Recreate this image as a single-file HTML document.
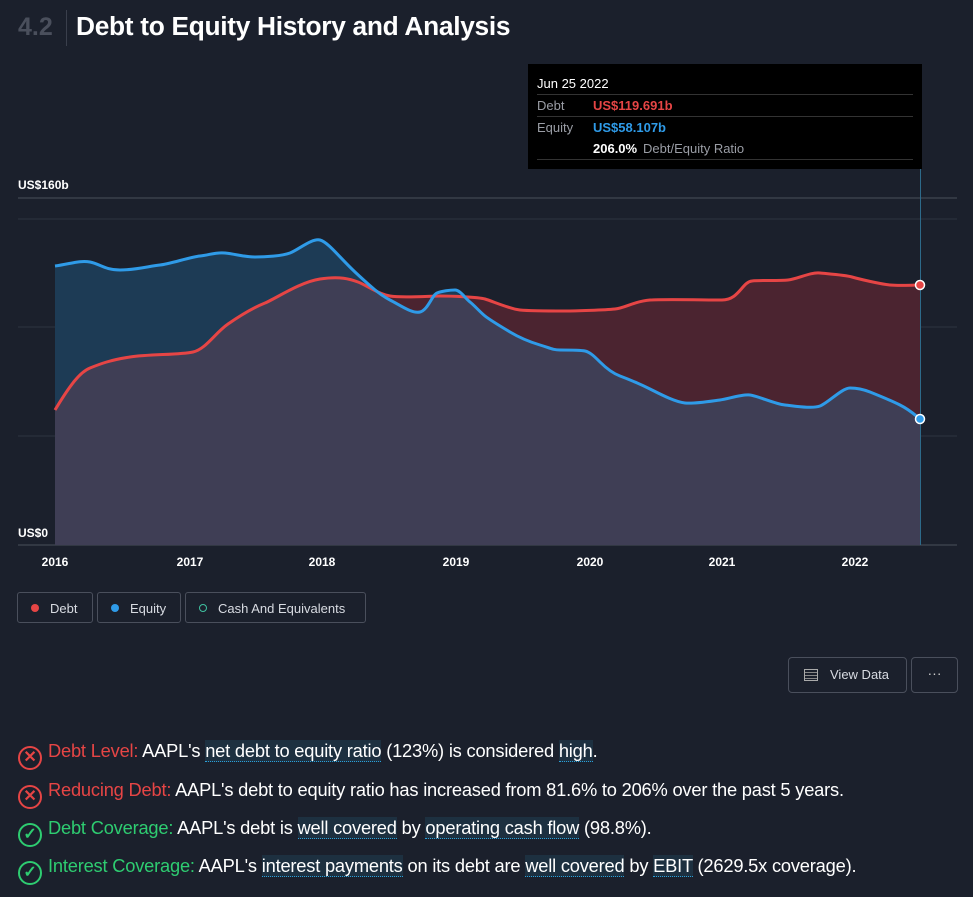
<!DOCTYPE html>
<html><head><style>
body{margin:0;width:973px;height:897px;background:#1b202c;font-family:"Liberation Sans",sans-serif;overflow:hidden;position:relative;color:#fff}
.a{position:absolute}
.leg{position:absolute;top:592px;height:31px;border:1px solid #4a4f5c;border-radius:3px;font-size:13px;color:#d8dbe2;line-height:31px;box-sizing:border-box;padding-left:32px}
.leg i{position:absolute;left:13px;top:11px;width:8px;height:8px;border-radius:50%}
.row{position:absolute;left:18px;font-size:18.3px;color:#fff;white-space:nowrap;letter-spacing:-0.2px}
.ic{display:inline-block;width:24px;height:24px;border:2px solid;border-radius:50%;box-sizing:border-box;vertical-align:-5px;margin-right:6px;text-align:center;line-height:19px;font-size:16px;font-weight:bold}
.u{background:#1d3040;border-bottom:1px dotted #2a9fd8}
</style></head><body>
<div class="a" style="left:18px;top:13px;font-size:25px;color:#4a4f5c;font-weight:bold">4.2</div>
<div class="a" style="left:66px;top:10px;width:1px;height:36px;background:#3a3f4c"></div>
<div class="a" style="left:76px;top:11px;font-size:26.3px;font-weight:bold;letter-spacing:-0.3px">Debt to Equity History and Analysis</div>
<svg class="a" style="left:0;top:0" width="973" height="580">
<defs>
<clipPath id="eq"><path d="M55,266 C70,264 80,260 90,262 S105,270 120,270 S150,266 160,265 S190,257 200,256 S215,252 225,253 S245,257 255,257 S282,256 290,253 S312,238 320,240 S340,258 355,272 S380,295 390,300 S412,314 420,312 S432,295 437,293 S450,290 455,290 S465,298 470,302 S480,312 485,316 S500,326 510,332 S530,342 540,345 S553,350 560,350 S580,350 585,351 S595,357 600,362 S612,373 620,376 S640,384 650,389 S675,402 685,403 S712,401 720,400 S742,394 750,395 S775,404 785,405 S812,409 820,406 S842,388 850,388 S865,390 870,392 S890,400 900,405 S915,415 920,419 L920,545 L55,545 Z"/></clipPath>
</defs>
<line x1="18" y1="198" x2="957" y2="198" stroke="#4a4f5a" stroke-width="1"/>
<line x1="18" y1="219" x2="957" y2="219" stroke="#2e3340"/>
<line x1="18" y1="327" x2="957" y2="327" stroke="#2e3340"/>
<line x1="18" y1="436" x2="957" y2="436" stroke="#2e3340"/>
<line x1="18" y1="545" x2="957" y2="545" stroke="#4a4f5a"/>
<path d="M55,266 C70,264 80,260 90,262 S105,270 120,270 S150,266 160,265 S190,257 200,256 S215,252 225,253 S245,257 255,257 S282,256 290,253 S312,238 320,240 S340,258 355,272 S380,295 390,300 S412,314 420,312 S432,295 437,293 S450,290 455,290 S465,298 470,302 S480,312 485,316 S500,326 510,332 S530,342 540,345 S553,350 560,350 S580,350 585,351 S595,357 600,362 S612,373 620,376 S640,384 650,389 S675,402 685,403 S712,401 720,400 S742,394 750,395 S775,404 785,405 S812,409 820,406 S842,388 850,388 S865,390 870,392 S890,400 900,405 S915,415 920,419 L920,545 L55,545 Z" fill="#1d3b55"/>
<path d="M55,410 C70,385 80,372 90,368 S110,360 130,357 S180,355 193,352 S215,333 228,324 S255,307 265,303 S300,282 320,279 S350,279 358,282 S378,294 390,296 S430,296 440,296 S478,297 485,299 S510,309 520,310 S555,311 565,311 S605,310 615,309 S635,301 650,300 S705,300 722,300 S742,282 752,281 S778,281 788,280 S810,272 820,273 S845,275 852,277 S880,284 890,285 S912,285 920,285 L920,545 L55,545 Z" fill="#4b2430"/>
<path d="M55,410 C70,385 80,372 90,368 S110,360 130,357 S180,355 193,352 S215,333 228,324 S255,307 265,303 S300,282 320,279 S350,279 358,282 S378,294 390,296 S430,296 440,296 S478,297 485,299 S510,309 520,310 S555,311 565,311 S605,310 615,309 S635,301 650,300 S705,300 722,300 S742,282 752,281 S778,281 788,280 S810,272 820,273 S845,275 852,277 S880,284 890,285 S912,285 920,285 L920,545 L55,545 Z" fill="#3f3e55" clip-path="url(#eq)"/>
<path d="M55,410 C70,385 80,372 90,368 S110,360 130,357 S180,355 193,352 S215,333 228,324 S255,307 265,303 S300,282 320,279 S350,279 358,282 S378,294 390,296 S430,296 440,296 S478,297 485,299 S510,309 520,310 S555,311 565,311 S605,310 615,309 S635,301 650,300 S705,300 722,300 S742,282 752,281 S778,281 788,280 S810,272 820,273 S845,275 852,277 S880,284 890,285 S912,285 920,285" fill="none" stroke="#e64545" stroke-width="3"/>
<path d="M55,266 C70,264 80,260 90,262 S105,270 120,270 S150,266 160,265 S190,257 200,256 S215,252 225,253 S245,257 255,257 S282,256 290,253 S312,238 320,240 S340,258 355,272 S380,295 390,300 S412,314 420,312 S432,295 437,293 S450,290 455,290 S465,298 470,302 S480,312 485,316 S500,326 510,332 S530,342 540,345 S553,350 560,350 S580,350 585,351 S595,357 600,362 S612,373 620,376 S640,384 650,389 S675,402 685,403 S712,401 720,400 S742,394 750,395 S775,404 785,405 S812,409 820,406 S842,388 850,388 S865,390 870,392 S890,400 900,405 S915,415 920,419" fill="none" stroke="#2f9be8" stroke-width="3"/>
<line x1="920.5" y1="168" x2="920.5" y2="545" stroke="#2d6a8a"/>
<circle cx="920" cy="285" r="4.5" fill="#e64545" stroke="#fff" stroke-width="1.5"/>
<circle cx="920" cy="419" r="4.5" fill="#2f9be8" stroke="#fff" stroke-width="1.5"/>
<g font-size="12" fill="#fff" font-weight="bold" font-family="Liberation Sans">
<text x="18" y="189">US$160b</text><text x="18" y="537">US$0</text>
<text x="55" y="566" text-anchor="middle">2016</text><text x="190" y="566" text-anchor="middle">2017</text><text x="322" y="566" text-anchor="middle">2018</text><text x="456" y="566" text-anchor="middle">2019</text><text x="590" y="566" text-anchor="middle">2020</text><text x="722" y="566" text-anchor="middle">2021</text><text x="855" y="566" text-anchor="middle">2022</text>
</g>
<rect x="528" y="64" width="394" height="105" fill="#000"/>
<g font-size="13" font-family="Liberation Sans">
<text x="537" y="88" fill="#fff">Jun 25 2022</text>
<line x1="537" y1="94.5" x2="913" y2="94.5" stroke="#333"/>
<text x="537" y="110" fill="#9a9da5">Debt</text><text x="593" y="110" fill="#e64545" font-weight="bold">US$119.691b</text>
<line x1="537" y1="116.5" x2="913" y2="116.5" stroke="#333"/>
<text x="537" y="132" fill="#9a9da5">Equity</text><text x="593" y="132" fill="#2f9be8" font-weight="bold">US$58.107b</text>
<text x="593" y="153" fill="#fff" font-weight="bold">206.0%</text><text x="643" y="153" fill="#9a9da5">Debt/Equity Ratio</text>
<line x1="537" y1="159.5" x2="913" y2="159.5" stroke="#333"/>
</g>
</svg>
<div class="leg" style="left:17px;width:76px"><i style="background:#e64545"></i>Debt</div>
<div class="leg" style="left:97px;width:84px"><i style="background:#2f9be8"></i>Equity</div>
<div class="leg" style="left:185px;width:181px"><i style="border:1.5px solid #3fc1a0;box-sizing:border-box"></i>Cash And Equivalents</div>
<div class="a" style="left:788px;top:657px;width:119px;height:36px;border:1px solid #4a4f5c;border-radius:4px;box-sizing:border-box;font-size:13px;color:#d8dbe2;line-height:34px;padding-left:41px">View Data
<span style="position:absolute;left:15px;top:11px;width:14px;height:12px;border:1px solid #aaa;box-sizing:border-box;background:repeating-linear-gradient(#1b202c 0 2px,#888 2px 3px)"></span></div>
<div class="a" style="left:911px;top:657px;width:47px;height:36px;border:1px solid #4a4f5c;border-radius:4px;box-sizing:border-box;color:#ccc;text-align:center;line-height:30px;font-size:14px">···</div>
<div class="row" style="top:740px"><span class="ic" style="border-color:#e64545;color:#e64545">✕</span><span style="color:#e64545">Debt Level:</span> AAPL's <span class="u">net debt to equity ratio</span> (123%) is considered <span class="u">high</span>.</div>
<div class="row" style="top:779px"><span class="ic" style="border-color:#e64545;color:#e64545">✕</span><span style="color:#e64545">Reducing Debt:</span> AAPL's debt to equity ratio has increased from 81.6% to 206% over the past 5 years.</div>
<div class="row" style="top:817px"><span class="ic" style="border-color:#2ecc71;color:#2ecc71">✓</span><span style="color:#2ecc71">Debt Coverage:</span> AAPL's debt is <span class="u">well covered</span> by <span class="u">operating cash flow</span> (98.8%).</div>
<div class="row" style="top:855px"><span class="ic" style="border-color:#2ecc71;color:#2ecc71">✓</span><span style="color:#2ecc71">Interest Coverage:</span> AAPL's <span class="u">interest payments</span> on its debt are <span class="u">well covered</span> by <span class="u">EBIT</span> (2629.5x coverage).</div>
</body></html>
